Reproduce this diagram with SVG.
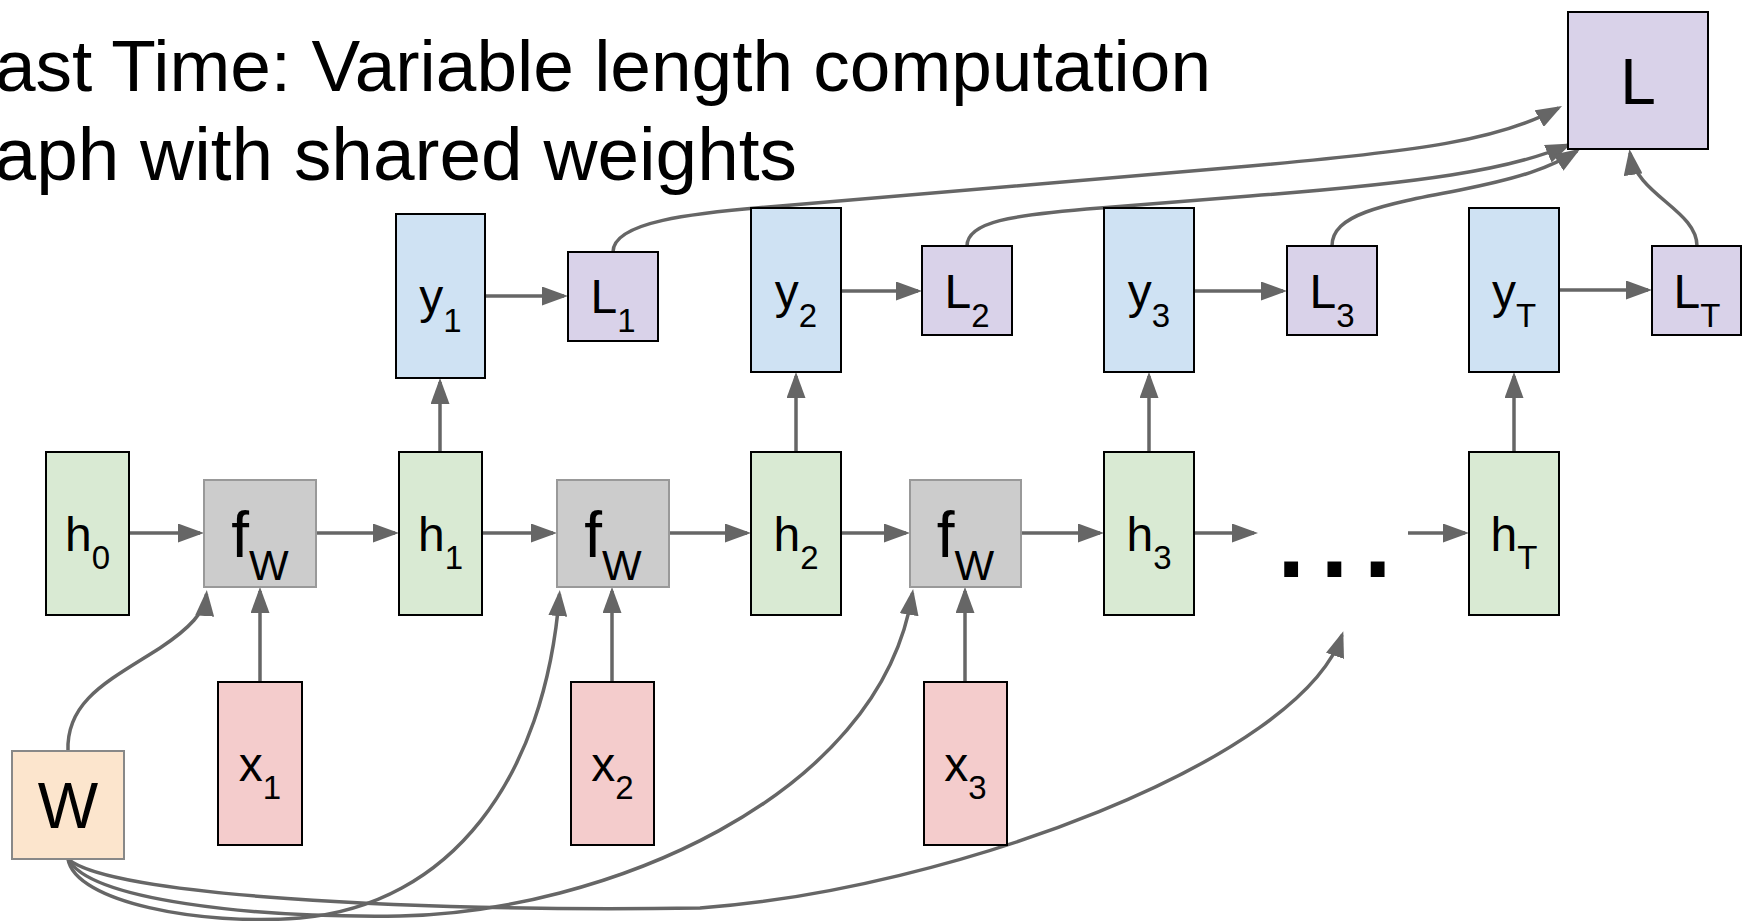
<svg xmlns="http://www.w3.org/2000/svg" width="1742" height="921" viewBox="0 0 1742 921">
<style>
text{font-family:"Liberation Sans",Arial,sans-serif;fill:#000}
.n{stroke:#000;stroke-width:2}
.g{fill:#d9ead3}.b{fill:#cfe2f3}.p{fill:#d9d2e9}.r{fill:#f4cccc}
.f{fill:#cccccc;stroke:#999;stroke-width:2}
.w{fill:#fce5cd;stroke:#888;stroke-width:2}
.lab{font-size:48px;text-anchor:middle}
.big{font-size:64px;text-anchor:middle}
.c{fill:none;stroke:#666;stroke-width:3.5;marker-end:url(#ah)}
.title{text-anchor:end}
</style>
<defs>
<marker id="ah" markerUnits="userSpaceOnUse" markerWidth="26" markerHeight="19" refX="22" refY="9.5" orient="auto">
<path d="M0,0 L26,9.5 L0,19 z" fill="#666"/>
</marker>
</defs>
<g id="title">
<text class="title" x="1211" y="91" font-size="73">Last Time: Variable length computation</text>
<text class="title" x="797" y="180" font-size="74.8">graph with shared weights</text>
</g>
<g id="connectors">
<path class="c" d="M130,533 H200"/>
<path class="c" d="M316,533 H395"/>
<path class="c" d="M482,533 H553"/>
<path class="c" d="M669,533 H747"/>
<path class="c" d="M841,533 H906"/>
<path class="c" d="M1021,533 H1100"/>
<path class="c" d="M1194,533 H1254"/>
<path class="c" d="M1408,533 H1465"/>
<path class="c" d="M440,452 V382"/>
<path class="c" d="M796,452 V376"/>
<path class="c" d="M1149,452 V376"/>
<path class="c" d="M1514,452 V376"/>
<path class="c" d="M260,682 V591"/>
<path class="c" d="M612,682 V591"/>
<path class="c" d="M965,682 V591"/>
<path class="c" d="M485,296 H564"/>
<path class="c" d="M841,291 H918"/>
<path class="c" d="M1194,291 H1283"/>
<path class="c" d="M1559,290 H1648"/>
<path class="c" d="M613,252 C613,222 690,213 780,206 L1250,166 C1420,151 1500,140 1558.5,108"/>
<path class="c" d="M967,246 C967,222 1010,215 1100,208 L1250,196 C1420,183 1510,170 1568,145"/>
<path class="c" d="M1332,246 C1332,215 1380,205 1460,190 C1520,178 1550,168 1577,151"/>
<path class="c" d="M1697,246 C1697,210 1636,195 1630,153"/>
<path class="c" d="M68,751 C66,700 110,680 160,648 C190,628 205,612 206.5,594"/>
<path class="c" d="M68,859 C75,902 200,926 300,918 C450,905 545,780 559.5,594"/>
<path class="c" d="M68,859 C90,900 250,918 400,916 C600,912 880,800 912.5,593"/>
<path class="c" d="M68,859 C110,895 400,912 700,908 C950,890 1300,760 1342,635"/>
</g>
<g id="h0"><rect class="n g" x="46" y="452" width="83" height="163"/><text class="lab" x="87.5" y="551">h<tspan font-size="33" dy="18">0</tspan></text></g>
<g id="fW1"><rect class="f" x="204" y="480" width="112" height="107"/><text class="big" x="260" y="557">f<tspan font-size="42" dy="23">W</tspan></text></g>
<g id="h1"><rect class="n g" x="399" y="452" width="83" height="163"/><text class="lab" x="440.5" y="551">h<tspan font-size="33" dy="18">1</tspan></text></g>
<g id="fW2"><rect class="f" x="557" y="480" width="112" height="107"/><text class="big" x="613" y="557">f<tspan font-size="42" dy="23">W</tspan></text></g>
<g id="h2"><rect class="n g" x="751" y="452" width="90" height="163"/><text class="lab" x="796" y="551">h<tspan font-size="33" dy="18">2</tspan></text></g>
<g id="fW3"><rect class="f" x="910" y="480" width="111" height="107"/><text class="big" x="965.5" y="557">f<tspan font-size="42" dy="23">W</tspan></text></g>
<g id="h3"><rect class="n g" x="1104" y="452" width="90" height="163"/><text class="lab" x="1149" y="551">h<tspan font-size="33" dy="18">3</tspan></text></g>
<g id="dots"><text x="1271" y="577" font-size="145" letter-spacing="3">...</text></g>
<g id="hT"><rect class="n g" x="1469" y="452" width="90" height="163"/><text class="lab" x="1514" y="551">h<tspan font-size="33" dy="18">T</tspan></text></g>
<g id="y1"><rect class="n b" x="396" y="214" width="89" height="164"/><text class="lab" x="440.5" y="313">y<tspan font-size="33" dy="19">1</tspan></text></g>
<g id="L1"><rect class="n p" x="568" y="252" width="90" height="89"/><text class="lab" x="613" y="313">L<tspan font-size="33" dy="19">1</tspan></text></g>
<g id="y2"><rect class="n b" x="751" y="208" width="90" height="164"/><text class="lab" x="796" y="308">y<tspan font-size="33" dy="19">2</tspan></text></g>
<g id="L2"><rect class="n p" x="922" y="246" width="90" height="89"/><text class="lab" x="967" y="308">L<tspan font-size="33" dy="19">2</tspan></text></g>
<g id="y3"><rect class="n b" x="1104" y="208" width="90" height="164"/><text class="lab" x="1149" y="308">y<tspan font-size="33" dy="19">3</tspan></text></g>
<g id="L3"><rect class="n p" x="1287" y="246" width="90" height="89"/><text class="lab" x="1332" y="308">L<tspan font-size="33" dy="19">3</tspan></text></g>
<g id="yT"><rect class="n b" x="1469" y="208" width="90" height="164"/><text class="lab" x="1514" y="308">y<tspan font-size="33" dy="19">T</tspan></text></g>
<g id="LT"><rect class="n p" x="1652" y="246" width="89" height="89"/><text class="lab" x="1697" y="308">L<tspan font-size="33" dy="19">T</tspan></text></g>
<g id="L"><rect class="n p" x="1568" y="12" width="140" height="137"/><text class="big" x="1638" y="104">L</text></g>
<g id="x1"><rect class="n r" x="218" y="682" width="84" height="163"/><text class="lab" x="260" y="781">x<tspan font-size="33" dy="18">1</tspan></text></g>
<g id="x2"><rect class="n r" x="571" y="682" width="83" height="163"/><text class="lab" x="612.5" y="781">x<tspan font-size="33" dy="18">2</tspan></text></g>
<g id="x3"><rect class="n r" x="924" y="682" width="83" height="163"/><text class="lab" x="965.5" y="781">x<tspan font-size="33" dy="18">3</tspan></text></g>
<g id="W"><rect class="w" x="12" y="751" width="112" height="108"/><text class="big" x="68" y="828">W</text></g>
</svg>
